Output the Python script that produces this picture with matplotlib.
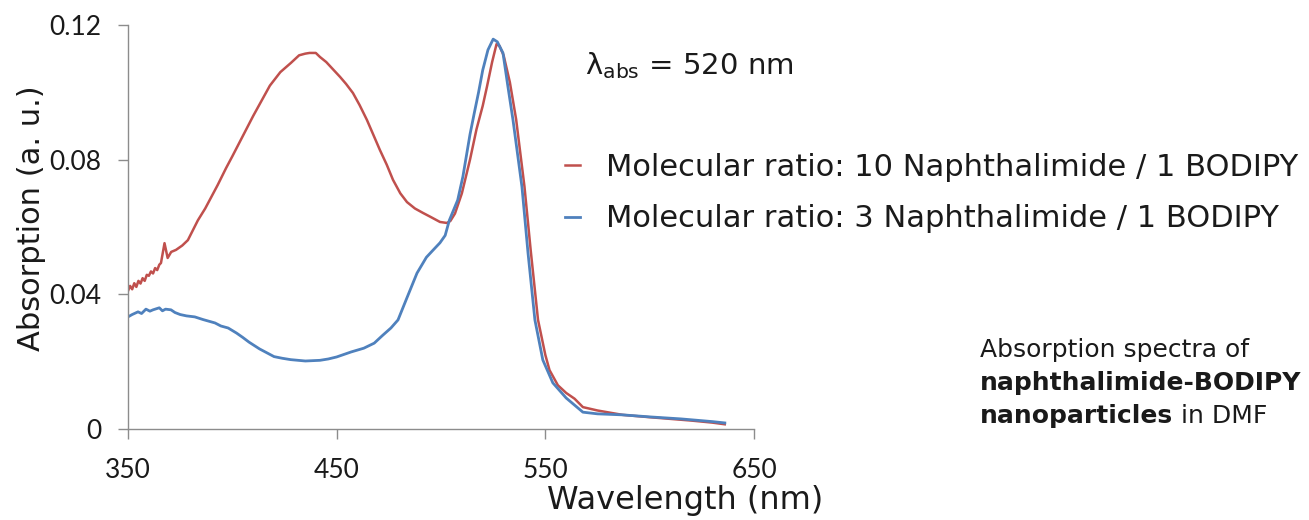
import matplotlib
matplotlib.use("Agg")
import matplotlib.pyplot as plt

# ---- data ----
wl_red = [350, 351, 352, 353, 354, 355, 356, 357, 358, 359, 360, 361, 362, 363, 364, 365, 365.8, 367.5,
          369, 370.7, 373, 376, 378.7, 383.5, 387, 390, 393, 397, 400, 404, 410, 414, 418, 423, 428, 432,
          435, 437, 440, 442, 445, 448, 451.6, 454.5, 457.8, 461, 464.5, 467.5, 470.7, 474, 477, 480.5,
          483.7, 487.5, 491.3, 495, 499.5, 502.8, 504.5, 506.7, 510, 513.9, 517, 520, 522, 524.5, 526.6,
          528, 530, 533, 536, 540, 543, 546.5, 550, 552, 556, 560, 564, 568, 575, 587, 600, 610, 620,
          630, 636]
abs_red = [0.0410, 0.0425, 0.0415, 0.0433, 0.0422, 0.0440, 0.0432, 0.0448, 0.0440, 0.0458, 0.0455,
           0.0468, 0.0462, 0.0478, 0.0472, 0.0488, 0.0493, 0.0552, 0.0508, 0.0526, 0.0532, 0.0545,
           0.0561, 0.0620, 0.0655, 0.0690, 0.0725, 0.0775, 0.0810, 0.0858, 0.0930, 0.0975, 0.1020,
           0.1060, 0.1087, 0.1110, 0.1115, 0.1117, 0.1117, 0.1105, 0.1090, 0.1070, 0.1046, 0.1025,
           0.0998, 0.0962, 0.0918, 0.0875, 0.0829, 0.0785, 0.0740, 0.0700, 0.0674, 0.0655, 0.0642,
           0.0630, 0.0615, 0.0612, 0.0618, 0.0640, 0.0700, 0.0800, 0.0890, 0.0960, 0.1016, 0.1090,
           0.1143, 0.1138, 0.1110, 0.1030, 0.0920, 0.0720, 0.0530, 0.0324, 0.0220, 0.0175, 0.0130,
           0.0107, 0.0090, 0.0065, 0.0055, 0.0042, 0.0035, 0.0030, 0.0025, 0.0019, 0.0014]

wl_blue = [350, 352, 354.8, 356.5, 358.6, 360.5, 362, 365, 366.5, 368, 370.6, 372.5, 375, 378, 382, 386,
           391.7, 394.5, 398, 402, 405, 408, 413, 420, 424, 428, 435, 442, 446, 450, 457, 463, 468, 472,
           476, 479.4, 483.7, 488.5, 493, 496, 499.5, 502, 504, 506, 508, 510.5, 513.9, 516, 518, 520,
           522.5, 525, 527, 529.7, 532, 534.5, 538.8, 541.7, 545, 548.8, 553.6, 560, 568, 575, 587, 600,
           615, 630, 636]
abs_blue = [0.0333, 0.0340, 0.0348, 0.0343, 0.0356, 0.0350, 0.0354, 0.0360, 0.0351, 0.0356, 0.0354,
            0.0346, 0.0340, 0.0336, 0.0333, 0.0325, 0.0315, 0.0306, 0.0300, 0.0285, 0.0272, 0.0258,
            0.0238, 0.0215, 0.0210, 0.0206, 0.0202, 0.0204, 0.0208, 0.0214, 0.0229, 0.0240, 0.0255,
            0.0278, 0.0300, 0.0324, 0.0390, 0.0463, 0.0510, 0.0530, 0.0553, 0.0575, 0.0620, 0.0650,
            0.0680, 0.0750, 0.0875, 0.0940, 0.1000, 0.1066, 0.1126, 0.1158, 0.1150, 0.1117, 0.1020,
            0.0918, 0.0719, 0.0523, 0.0324, 0.0205, 0.0137, 0.0092, 0.0050, 0.0045, 0.0042, 0.0036,
            0.0030, 0.0022, 0.0018]

label_red = "Molecular ratio: 10 Naphthalimide / 1 BODIPY"
label_blue = "Molecular ratio: 3 Naphthalimide / 1 BODIPY"
x_ticks = [350, 450, 550, 650]
y_ticks = [0, 0.04, 0.08, 0.12]
y_ticklabels = ["0", "0.04", "0.08", "0.12"]

RED = "#C0504D"
BLUE = "#4F81BD"
GREY = "#8c8c8c"
TXT = "#1a1a1a"
plt.rcParams["font.family"] = ["DejaVu Sans"]

fig = plt.figure(figsize=(13.09, 5.20), dpi=100)
ax = fig.add_axes([128 / 1309, 1 - 429 / 520, (754 - 128) / 1309, (429 - 25) / 520])

l1, = ax.plot(wl_red, abs_red, color=RED, lw=1.8, label=label_red)
l2, = ax.plot(wl_blue, abs_blue, color=BLUE, lw=2.0, label=label_blue)

ax.set_xlim(350, 650)
ax.set_ylim(0, 0.12)
ax.set_xticks(x_ticks)
ax.set_xticklabels([str(t) for t in x_ticks])
ax.set_yticks(y_ticks)
ax.set_yticklabels(y_ticklabels)
for s in ["top", "right"]:
    ax.spines[s].set_visible(False)
for s in ["left", "bottom"]:
    ax.spines[s].set_color(GREY)
    ax.spines[s].set_linewidth(1.0)
ax.tick_params(axis="both", direction="out", color=GREY, length=7, width=1.0,
               labelsize=19, labelcolor=TXT)
for lab in ax.get_xticklabels() + ax.get_yticklabels():
    lab.set_family(["Lato", "DejaVu Sans"])
ax.tick_params(axis="x", pad=14)
ax.tick_params(axis="y", pad=12)

ax.set_xlabel("Wavelength (nm)", fontsize=23, color=TXT)
ax.xaxis.set_label_coords((685 - 128) / (754 - 128), -(500 - 429) / (429 - 25))
ax.xaxis.label.set_va("center")
ax.set_ylabel("Absorption (a. u.)", fontsize=22, color=TXT)
ax.yaxis.set_label_coords(-(128 - 32) / (754 - 128), (429 - 218) / (429 - 25))
ax.yaxis.label.set_va("center")

fig.text(585 / 1309, 1 - 66 / 520, r"λ$_{\mathregular{abs}}$ = 520 nm", fontsize=21,
         color=TXT, va="center", ha="left")

fig.legend(handles=[l1, l2], loc="center left",
           bbox_to_anchor=(565 / 1309, 1 - 193 / 520), frameon=False,
           fontsize=22, handlelength=0.5, handletextpad=0.85, labelspacing=0.75,
           labelcolor=TXT, borderpad=0.0, borderaxespad=0.0)

# caption
fs_cap = 18
x0 = 980 / 1309
fig.text(x0, 1 - 350 / 520, "Absorption spectra of", fontsize=fs_cap, color=TXT, va="center")
fig.text(x0, 1 - 383 / 520, "naphthalimide-BODIPY", fontsize=fs_cap, color=TXT,
         va="center", fontweight="bold")
tb = fig.text(x0, 1 - 416 / 520, "nanoparticles", fontsize=fs_cap, color=TXT,
              va="center", fontweight="bold")
fig.canvas.draw()
bb = tb.get_window_extent(renderer=fig.canvas.get_renderer())
fig.text(bb.x1 / fig.bbox.width, 1 - 416 / 520, " in DMF", fontsize=fs_cap, color=TXT,
         va="center")

fig.savefig("out.png", dpi=100, facecolor="white")
